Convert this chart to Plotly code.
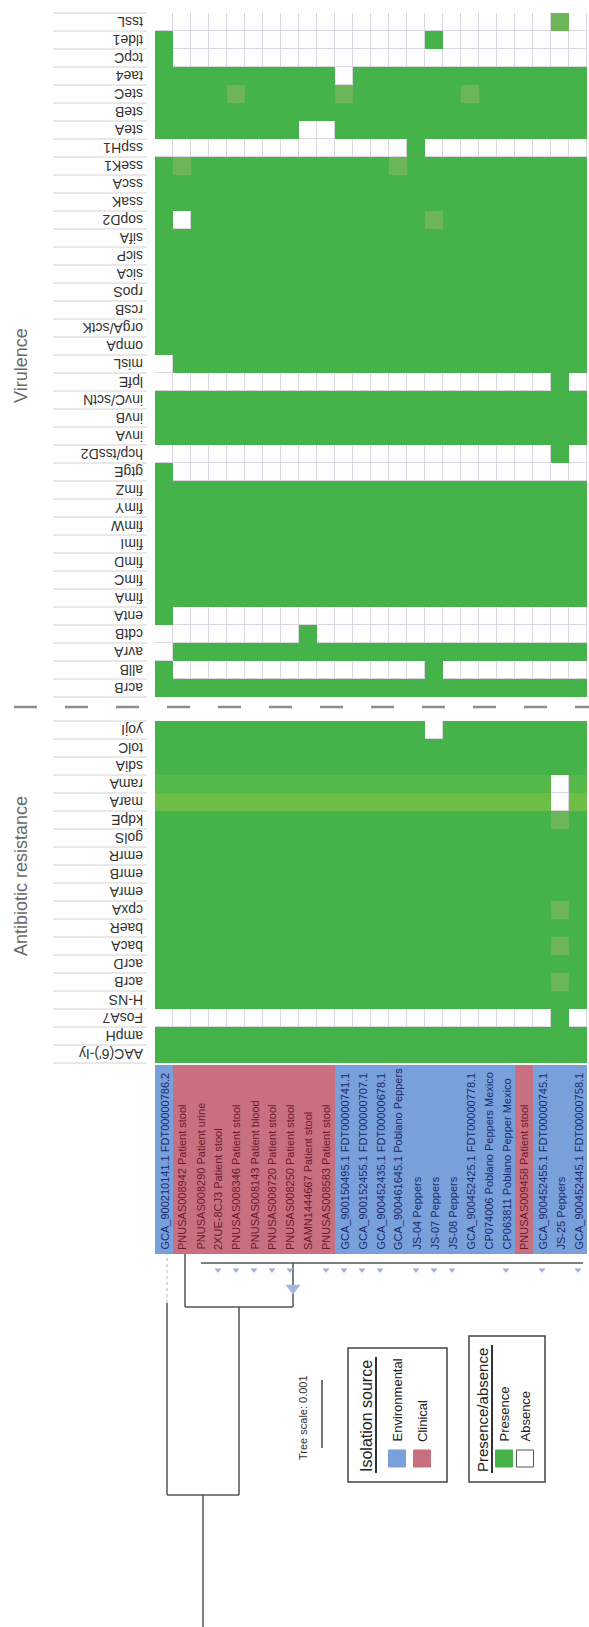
import numpy as np
import plotly.graph_objects as go

FONT = "Liberation Sans, Arial, sans-serif"

# ---------------- data ----------------
strains = [
    "GCA_900210141.1 FDT00000786.2",
    "PNUSAS008942 Patient stool",
    "PNUSAS008290 Patient urine",
    "2XUE-8CJ3 Patient stool",
    "PNUSAS008346 Patient stool",
    "PNUSAS008143 Patient blood",
    "PNUSAS008720 Patient stool",
    "PNUSAS008250 Patient stool",
    "SAMN1444667 Patient stool",
    "PNUSAS008583 Patient stool",
    "GCA_900150495.1 FDT00000741.1",
    "GCA_900152455.1 FDT00000707.1",
    "GCA_900452435.1 FDT00000678.1",
    "GCA_900461645.1 Poblano Peppers",
    "JS-04 Peppers",
    "JS-07 Peppers",
    "JS-08 Peppers",
    "GCA_900452425.1 FDT00000778.1",
    "CP074006 Poblano Peppers Mexico",
    "CP063811 Poblano Pepper Mexico",
    "PNUSAS009458 Patient stool",
    "GCA_900452455.1 FDT00000745.1",
    "JS-25 Peppers",
    "GCA_900452445.1 FDT00000758.1",
]
# E = environmental, C = clinical
sources = list("ECCCCCCCCCEEEEEEEEEECEEE")

# 0 = absent, 1 = present, 2-4 = present with reduced identity
virulence_genes = [
    "tssL", "tlde1", "tcpC", "tae4", "steC", "steB", "steA", "sspH1", "sseK1",
    "sscA", "ssaK", "sopD2", "sifA", "sicP", "sicA", "rpoS", "rcsB", "orgA/sctK",
    "ompA", "misL", "lpfE", "invC/sctN", "invB", "invA", "hcp/tssD2", "gtgE",
    "fimZ", "fimY", "fimW", "fimI", "fimD", "fimC", "fimA", "entA", "cdtB",
    "avrA", "allB", "acrB",
]
virulence_calls = [
    "000000000000000000000020",
    "100000000000000100000000",
    "100000000000000000000000",
    "111111111101111111111111",
    "111121111121111112111111",
    "111111111111111111111111",
    "111111110011111111111111",
    "000000000000001000000000",
    "121111111111121111111111",
    "111111111111111111111111",
    "111111111111111111111111",
    "101111111111111211111111",
    "111111111111111111111111",
    "111111111111111111111111",
    "111111111111111111111111",
    "111111111111111111111111",
    "111111111111111111111111",
    "111111111111111111111111",
    "111111111111111111111111",
    "011111111111111111111111",
    "000000000000000000000010",
    "111111111111111111111111",
    "111111111111111111111111",
    "111111111111111111111111",
    "000000000000000000000010",
    "100000000000000000000000",
    "111111111111111111111111",
    "111111111111111111111111",
    "111111111111111111111111",
    "111111111111111111111111",
    "111111111111111111111111",
    "111111111111111111111111",
    "111111111111111111111111",
    "100000000000000000000000",
    "000000001000000000000000",
    "011111111111111111111111",
    "100000000000000100000000",
    "111111111111111111111111",
]
amr_genes = [
    "yojI", "tolC", "sdiA", "ramA", "marA", "kdpE", "golS", "emrR", "emrB",
    "emrA", "cpxA", "baeR", "bacA", "acrD", "acrB", "H-NS", "FosA7", "ampH",
    "AAC(6')-Iy",
]
amr_calls = [
    "111111111111111011111111",
    "111111111111111111111111",
    "111111111111111111111111",
    "333333333333333333333303",
    "444444444444444444444404",
    "111111111111111111111121",
    "111111111111111111111111",
    "111111111111111111111111",
    "111111111111111111111111",
    "111111111111111111111111",
    "111111111111111111111121",
    "111111111111111111111111",
    "111111111111111111111121",
    "111111111111111111111111",
    "111111111111111111111121",
    "111111111111111111111111",
    "000000000000000000000010",
    "111111111111111111111111",
    "111111111111111111111111",
]
# strains collapsed under the large clade (small tip markers)
collapsed_leaves = [3, 4, 5, 6, 7, 9, 10, 11, 12, 14, 15, 16, 19, 21, 23]
tree_scale_value = 0.001

# ---------------- geometry / style ----------------
W, H = 589, 1627
COL0, CW = 155.0, 18.0
RH = 18.0
VIR_TOP, AMR_TOP = 13.0, 721.0
BAND_TOP, BAND_BOT = 1065.0, 1254.0
LABEL_RIGHT = 145.0

GREEN = "#46b34a"
shade_scale = [
    [0.0, GREEN], [1 / 6, GREEN],
    [1 / 6, "#6cb657"], [0.5, "#6cb657"],
    [0.5, "#55b949"], [5 / 6, "#55b949"],
    [5 / 6, "#6dbd46"], [1.0, "#6dbd46"],
]
SRC_COLOR = {"E": "#78a0da", "C": "#c8707f"}
SRC_TEXT = {"E": "#1d2a6b", "C": "#6e1830"}


def col_center(i):
    return COL0 + CW * (i + 0.5)


fig = go.Figure()
shapes = []
annotations = []


def add_block(genes, calls, top):
    z = np.array([[int(ch) for ch in row] for row in calls], dtype=float)
    n = len(genes)
    # grid-line colour shows through the gaps of the white cells
    shapes.append(dict(type="rect", xref="x", yref="y", x0=COL0, x1=COL0 + CW * z.shape[1],
                       y0=top, y1=top + RH * n, fillcolor="#ddd4e4",
                       line=dict(width=0), layer="below"))
    common = dict(x0=col_center(0), dx=CW, y0=top + RH / 2, dy=RH,
                  showscale=False, hoverinfo="skip")
    fig.add_trace(go.Heatmap(z=np.ones_like(z), colorscale=[[0, "white"], [1, "white"]],
                             xgap=1, ygap=1, **common))
    fig.add_trace(go.Heatmap(z=np.where(z > 0, z, np.nan), zmin=1, zmax=4,
                             colorscale=shade_scale, **common))
    for k in range(n + 1):
        shapes.append(dict(type="line", xref="x", yref="y", x0=53, x1=147,
                           y0=top + RH * k, y1=top + RH * k,
                           line=dict(color="#d2d2d2", width=1)))
    for k, g in enumerate(genes):
        annotations.append(dict(x=LABEL_RIGHT, y=top + RH * (k + 0.5), text=g,
                                xref="x", yref="y", showarrow=False, textangle=180,
                                xanchor="right", yanchor="middle",
                                font=dict(family=FONT, size=14, color="#333333")))


add_block(virulence_genes, virulence_calls, VIR_TOP)
add_block(amr_genes, amr_calls, AMR_TOP)

# section titles
for title, yc in [("Virulence", 366), ("Antibiotic resistance", 876)]:
    annotations.append(dict(x=21, y=yc, text=title, xref="x", yref="y", showarrow=False,
                            textangle=-90, font=dict(family=FONT, size=18, color="#6a6a6a")))

# dashed divider between the two gene groups
shapes.append(dict(type="line", xref="x", yref="y", x0=14, x1=W, y0=707, y1=707,
                   line=dict(color="#8c8c8c", width=2.5, dash="23px,28px")))

# isolation-source band
src_z = [[0 if s == "E" else 1 for s in sources]]
fig.add_trace(go.Heatmap(z=src_z, x0=col_center(0), dx=CW,
                         y0=(BAND_TOP + BAND_BOT) / 2, dy=BAND_BOT - BAND_TOP,
                         zmin=0, zmax=1, showscale=False, hoverinfo="skip",
                         colorscale=[[0, SRC_COLOR["E"]], [0.5, SRC_COLOR["E"]],
                                     [0.5, SRC_COLOR["C"]], [1, SRC_COLOR["C"]]]))
for i, (name, s) in enumerate(zip(strains, sources)):
    annotations.append(dict(x=col_center(i), y=BAND_BOT - 2, text=name, xref="x", yref="y",
                            showarrow=False, textangle=-90, xanchor="center", yanchor="bottom",
                            font=dict(family=FONT, size=11, color=SRC_TEXT[s])))

# ---------------- tree ----------------
TIP = 3.0  # tree tips sit slightly right of the column centres


def leaf_x(i):
    return col_center(i) + TIP


root_y, clade_a_y, clade_b_y = 1495.0, 1307.0, 1263.0
clade_b_stem = leaf_x(7)
clade_b_left, clade_b_right = leaf_x(2) - 2, leaf_x(23) + 2
clade_a_x = (leaf_x(1) + clade_b_stem) / 2
root_x = (leaf_x(0) + clade_a_x) / 2

tx, ty = [], []


def seg(x0, y0, x1, y1):
    tx.extend([x0, x1, None])
    ty.extend([y0, y1, None])


seg(root_x, H, root_x, root_y)
seg(leaf_x(0), root_y, clade_a_x, root_y)
seg(leaf_x(0), root_y, leaf_x(0), 1303)
seg(clade_a_x, root_y, clade_a_x, clade_a_y)
seg(leaf_x(1), clade_a_y, clade_b_stem, clade_a_y)
seg(leaf_x(1), clade_a_y, leaf_x(1), BAND_BOT)
seg(clade_b_stem, clade_a_y, clade_b_stem, clade_b_y)
seg(clade_b_left, clade_b_y, clade_b_right, clade_b_y)
fig.add_trace(go.Scatter(x=tx, y=ty, mode="lines", hoverinfo="skip", showlegend=False,
                         line=dict(color="#555555", width=1.5)))
fig.add_trace(go.Scatter(x=[leaf_x(0), leaf_x(0)], y=[1303, BAND_BOT], mode="lines",
                         hoverinfo="skip", showlegend=False,
                         line=dict(color="#b8b8b8", width=1, dash="dot")))
fig.add_trace(go.Scatter(x=[col_center(i) for i in collapsed_leaves],
                         y=[1270] * len(collapsed_leaves), mode="markers",
                         hoverinfo="skip", showlegend=False,
                         marker=dict(symbol="triangle-down", size=6, color="#9db1dc")))
fig.add_trace(go.Scatter(x=[clade_b_stem], y=[1288], mode="markers", hoverinfo="skip",
                         showlegend=False,
                         marker=dict(symbol="triangle-down", size=13, color="#a6b6e0")))

# tree scale
shapes.append(dict(type="line", xref="x", yref="y", x0=322, x1=322, y0=1380, y1=1448,
                   line=dict(color="#444444", width=1.5)))
annotations.append(dict(x=303, y=1418, text=f"Tree scale: {tree_scale_value}", xref="x",
                        yref="y", showarrow=False, textangle=-90,
                        font=dict(family=FONT, size=11, color="#333333")))

# ---------------- legends ----------------
LEG_BOT = 1482.0


def legend_box(x0, x1, top, title, title_x, title_size, entries):
    shapes.append(dict(type="rect", xref="x", yref="y", x0=x0, x1=x1, y0=top, y1=LEG_BOT,
                       line=dict(color="#444444", width=1.5), fillcolor="rgba(0,0,0,0)"))
    annotations.append(dict(x=title_x, y=1474, text=title, xref="x", yref="y",
                            showarrow=False, textangle=-90, yanchor="bottom",
                            font=dict(family=FONT, size=title_size, color="#222222")))
    shapes.append(dict(type="line", xref="x", yref="y", x0=title_x + 10, x1=title_x + 10,
                       y0=top + 9, y1=1473, line=dict(color="#333333", width=2)))
    for cx, label, fill in entries:
        shapes.append(dict(type="rect", xref="x", yref="y", x0=cx - 8.5, x1=cx + 8.5,
                           y0=1450, y1=1467, fillcolor=fill,
                           line=dict(color="#555555" if fill == "white" else fill, width=1)))
        annotations.append(dict(x=cx, y=1444, text=label, xref="x", yref="y",
                                showarrow=False, textangle=-90, yanchor="bottom",
                                font=dict(family=FONT, size=13, color="#222222")))


legend_box(348, 447, 1348, "Isolation source", 366, 16,
           [(397, "Environmental", SRC_COLOR["E"]), (422, "Clinical", SRC_COLOR["C"])])
legend_box(469, 545, 1336, "Presence/absence", 482, 15,
           [(504, "Presence", GREEN), (525, "Absence", "white")])

fig.update_layout(
    width=W, height=H, margin=dict(l=0, r=0, t=0, b=0),
    paper_bgcolor="white", plot_bgcolor="white", showlegend=False,
    xaxis=dict(range=[0, W], visible=False, fixedrange=True),
    yaxis=dict(range=[H, 0], visible=False, fixedrange=True),
    shapes=shapes, annotations=annotations,
)
fig.write_html("out.html")
